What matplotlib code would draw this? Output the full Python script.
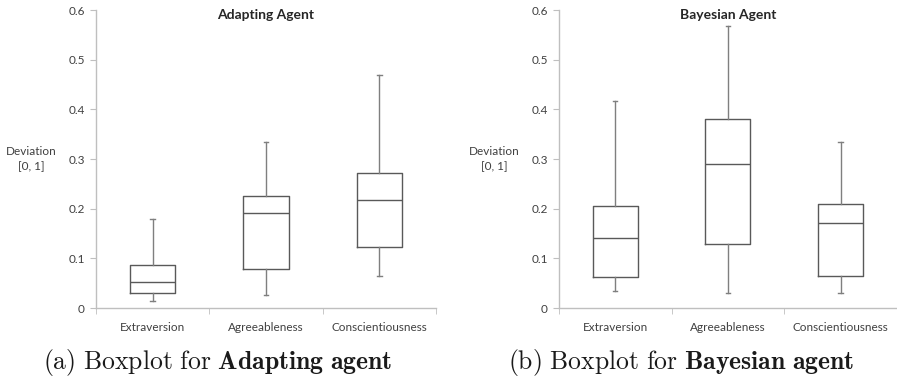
import matplotlib
matplotlib.use('Agg')
import matplotlib.pyplot as plt

#----------Data
traits = ['Extraversion', 'Agreeableness', 'Conscientiousness']

# adapting agent: whisker low, q1, median, q3, whisker high
adapt_low = [0.015, 0.026, 0.064]
adapt_q1 = [0.031, 0.079, 0.122]
adapt_med = [0.052, 0.191, 0.217]
adapt_q3 = [0.086, 0.225, 0.272]
adapt_high = [0.180, 0.334, 0.469]

# bayesian agent
bayes_low = [0.035, 0.030, 0.030]
bayes_q1 = [0.063, 0.129, 0.064]
bayes_med = [0.141, 0.290, 0.171]
bayes_q3 = [0.206, 0.381, 0.209]
bayes_high = [0.418, 0.569, 0.334]

yticks = [0, 0.1, 0.2, 0.3, 0.4, 0.5, 0.6]
ytick_labels = ['0', '0.1', '0.2', '0.3', '0.4', '0.5', '0.6']

plt.rcParams['font.family'] = ['Lato', 'DejaVu Sans']
plt.rcParams['mathtext.fontset'] = 'cm'

spine_col = '#bfbfbf'
box_col = '#595959'
text_col = '#404040'


def make_stats(low, q1, med, q3, high):
    stats = []
    for i in range(len(traits)):
        stats.append({'whislo': low[i], 'q1': q1[i], 'med': med[i],
                      'q3': q3[i], 'whishi': high[i], 'label': traits[i]})
    return stats


def draw_panel(ax, stats, title):
    ax.bxp(stats, positions=[1, 2, 3], widths=0.4, showfliers=False,
           boxprops=dict(color=box_col, linewidth=1.0),
           medianprops=dict(color=box_col, linewidth=1.0),
           whiskerprops=dict(color='#7f7f7f', linewidth=1.0),
           capprops=dict(color='#7f7f7f', linewidth=1.0),
           capwidths=0.04)
    ax.set_xlim(0.5, 3.5)
    ax.set_ylim(0, 0.6)
    ax.set_yticks(yticks)
    ax.set_yticklabels(ytick_labels)
    # labels at category centres, ticks at category borders
    ax.set_xticks([1, 2, 3])
    ax.set_xticklabels(traits)
    ax.set_xticks([0.5, 1.5, 2.5, 3.5], minor=True)
    ax.tick_params(axis='x', which='major', length=0, pad=10,
                   labelsize=8.5, labelcolor=text_col)
    ax.tick_params(axis='x', which='minor', length=4, color=spine_col, direction='out')
    ax.tick_params(axis='y', length=4, color=spine_col, labelsize=8.5,
                   labelcolor=text_col, pad=4)
    for s in ['top', 'right']:
        ax.spines[s].set_visible(False)
    for s in ['left', 'bottom']:
        ax.spines[s].set_color(spine_col)
        ax.spines[s].set_linewidth(1.0)
    ax.text(0.5, 0.985, title, transform=ax.transAxes, ha='center', va='center',
            fontsize=10, fontweight='bold', color='#262626')
    ax.text(-0.19, 0.5, 'Deviation\n[0, 1]', transform=ax.transAxes, ha='center',
            va='center', fontsize=8.5, color=text_col, linespacing=1.5)


fig = plt.figure(figsize=(8.97, 3.77), dpi=100)
ax1 = fig.add_axes([0.107, 0.183, 0.379, 0.790])
ax2 = fig.add_axes([0.623, 0.183, 0.377, 0.790])

draw_panel(ax1, make_stats(adapt_low, adapt_q1, adapt_med, adapt_q3, adapt_high), 'Adapting Agent')
draw_panel(ax2, make_stats(bayes_low, bayes_q1, bayes_med, bayes_q3, bayes_high), 'Bayesian Agent')

# captions in a LaTeX-like face
fig.text(0.048, 0.022, r'$\mathrm{(a)\ Boxplot\ for\ }\mathbf{Adapting\ agent}$',
         fontsize=18.5, ha='left', va='baseline', color='#1a1a1a')
fig.text(0.566, 0.022, r'$\mathrm{(b)\ Boxplot\ for\ }\mathbf{Bayesian\ agent}$',
         fontsize=18.5, ha='left', va='baseline', color='#1a1a1a')

fig.savefig('out.png', dpi=100)
